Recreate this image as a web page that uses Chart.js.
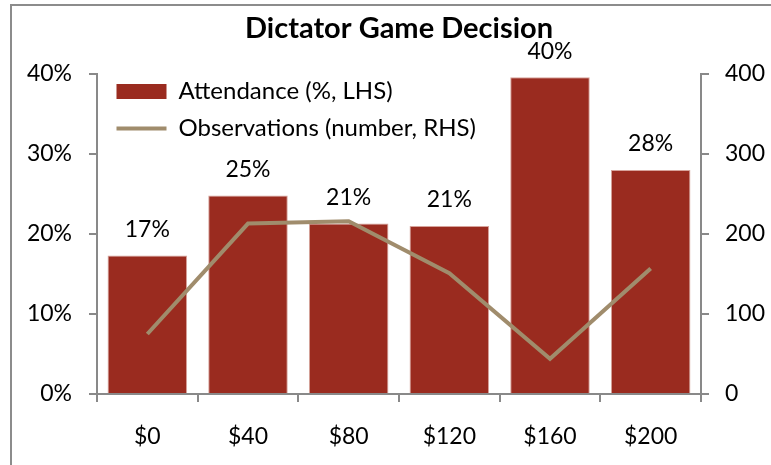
<!DOCTYPE html>
<html><head><meta charset="utf-8">
<script src="https://cdn.jsdelivr.net/npm/chart.js@4.4.1/dist/chart.umd.min.js"></script>
<style>html,body{margin:0;padding:0;background:#fff}</style>
</head><body>
<canvas id="c" width="771" height="465"></canvas>
<script>
const categories = ['$0', '$40', '$80', '$120', '$160', '$200'];
const attendance = [17.3, 24.8, 21.3, 21.0, 39.6, 28.0];
const observations = [75, 213, 216, 151, 44, 157];
const leftTicks = [0, 10, 20, 30, 40];
const rightTicks = [0, 100, 200, 300, 400];

const FONT = 'Lato';
const BAR = '#9A2B1F';
const BAR_EDGE = 'rgba(205,140,130,0.8)';
const LINE = '#A08C6C';
const AX = '#898989';
const tickFont = { family: FONT, size: 23 };

const framePlugin = {
  id: 'frame',
  beforeDraw(chart) {
    const ctx = chart.ctx;
    ctx.save();
    ctx.fillStyle = '#fff';
    ctx.fillRect(0, 0, chart.width, chart.height);
    ctx.strokeStyle = '#8c8c8c';
    ctx.lineWidth = 2;
    ctx.strokeRect(11, 5, 900, 900);
    ctx.restore();
  }
};

const legendPlace = {
  id: 'legendPlace',
  afterLayout(chart) {
    const l = chart.legend;
    if (!l) return;
    const w = l.right - l.left, h = l.bottom - l.top;
    l.left = chart.chartArea.left + 6.5;
    l.top = chart.chartArea.top - 7.5;
    l.right = l.left + w;
    l.bottom = l.top + h;
  }
};

const barLabels = {
  id: 'barLabels',
  afterDatasetsDraw(chart) {
    const ctx = chart.ctx;
    const meta = chart.getDatasetMeta(1);
    ctx.save();
    ctx.font = '23px ' + FONT;
    ctx.fillStyle = '#000';
    ctx.textAlign = 'center';
    ctx.textBaseline = 'middle';
    meta.data.forEach((bar, i) => {
      ctx.fillText(Math.round(attendance[i]) + '%', bar.x, bar.y - 26);
    });
    ctx.restore();
  }
};

new Chart(document.getElementById('c'), {
  type: 'bar',
  data: {
    labels: categories,
    datasets: [
      { type: 'line', label: 'Observations (number, RHS)', data: observations, yAxisID: 'y1',
        borderColor: LINE, backgroundColor: LINE, borderWidth: 4, pointRadius: 0, pointHoverRadius: 0,
        tension: 0, fill: false, order: 0 },
      { type: 'bar', label: 'Attendance (%, LHS)', data: attendance, yAxisID: 'y',
        backgroundColor: BAR, borderColor: BAR_EDGE, borderWidth: 1,
        barPercentage: 0.79, categoryPercentage: 1, order: 1 }
    ]
  },
  options: {
    responsive: false,
    animation: false,
    devicePixelRatio: 1,
    layout: { padding: 0 },
    plugins: {
      title: {
        display: true, text: 'Dictator Game Decision', color: '#000', fullSize: false,
        font: { family: FONT, size: 29, weight: 'bold' },
        padding: { top: 11.2, bottom: 28 }
      },
      legend: {
        position: 'chartArea', align: 'start',
        labels: {
          usePointStyle: true, pointStyleWidth: 50, boxHeight: 15, padding: 13,
          font: { family: FONT, size: 24 }, color: '#000',
          generateLabels: () => [
            { text: 'Attendance (%, LHS)', fillStyle: BAR, strokeStyle: BAR, lineWidth: 0,
              pointStyle: 'rect', datasetIndex: 1, hidden: false, fontColor: '#000' },
            { text: 'Observations (number, RHS)', fillStyle: LINE, strokeStyle: LINE, lineWidth: 4,
              pointStyle: 'line', datasetIndex: 0, hidden: false, fontColor: '#000' }
          ]
        }
      },
      tooltip: { enabled: false }
    },
    scales: {
      x: {
        offset: true,
        grid: { display: true, drawOnChartArea: false, drawTicks: true, tickLength: 8, color: AX, lineWidth: 2, offset: true },
        border: { display: true, color: AX, width: 2 },
        ticks: { font: tickFont, color: '#000', padding: 21, maxRotation: 0 },
        afterFit(s) { s.height = 71; }
      },
      y: {
        position: 'left', min: 0, max: 40,
        afterBuildTicks(s) { s.ticks = leftTicks.map(v => ({ value: v })); },
        ticks: { font: tickFont, color: '#000', padding: 17, callback: v => v + '%' },
        grid: { display: true, drawOnChartArea: false, tickLength: 8, color: AX, lineWidth: 2 },
        border: { display: true, color: AX, width: 2 },
        afterFit(s) { s.width = 97; }
      },
      y1: {
        position: 'right', min: 0, max: 400,
        afterBuildTicks(s) { s.ticks = rightTicks.map(v => ({ value: v })); },
        ticks: { font: tickFont, color: '#000', padding: 16 },
        grid: { display: true, drawOnChartArea: false, tickLength: 8, color: AX, lineWidth: 2 },
        border: { display: true, color: AX, width: 2 },
        afterFit(s) { s.width = 70; }
      }
    }
  },
  plugins: [framePlugin, legendPlace, barLabels]
});
</script>
</body></html>
